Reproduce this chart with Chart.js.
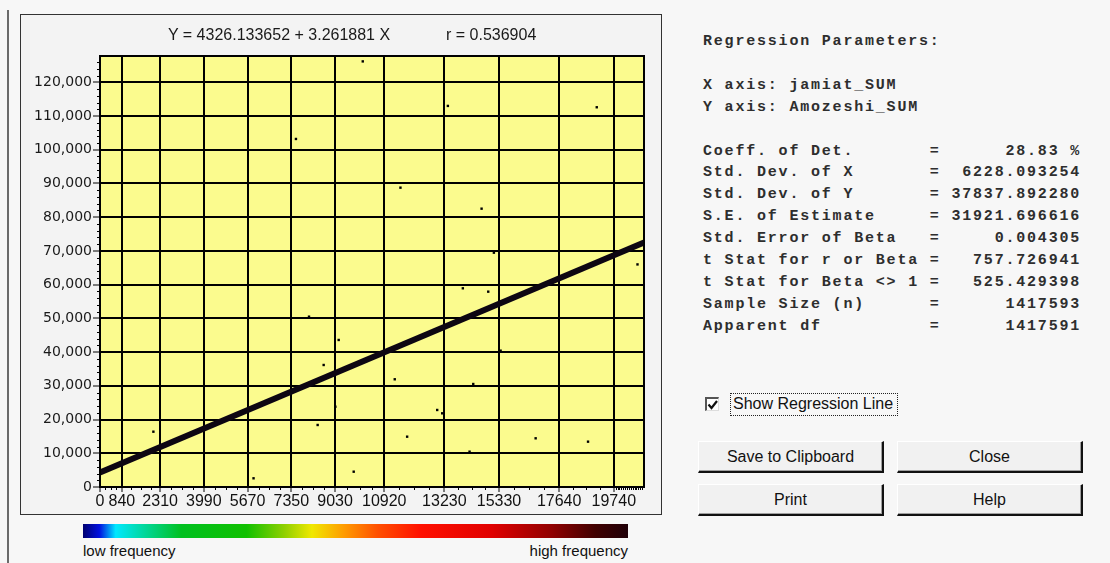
<!DOCTYPE html>
<html>
<head>
<meta charset="utf-8">
<title>Regression</title>
<script src="https://cdn.jsdelivr.net/npm/chart.js@4.4.0/dist/chart.umd.min.js"></script>
<style>
  html, body { margin: 0; padding: 0; }
  body {
    width: 1110px; height: 563px; position: relative; overflow: hidden;
    background: #f7f7f7; color: #111;
    font-family: "Liberation Sans", Arial, sans-serif;
  }
  .abs { position: absolute; }
  #winEdge { left: 7px; top: 10px; width: 2px; height: 553px; background: #6a6a6a; }
  #frame { left: 20px; top: 14px; width: 642px; height: 501px; box-sizing: border-box;
           border: 1px solid #333; background: #f3f3f3; }
  #wrap { left: 0; top: 0; width: 662px; height: 515px; }
  .ttl { top: 26px; font-size: 16px; line-height: 18px; white-space: pre; color: #1a1a1a; }
  #bar { left: 83px; top: 524px; width: 545px; height: 14px;
         background: linear-gradient(to right, #000070 0%, #0010e0 3%, #00e8ff 6%, #00d8a0 11%,
           #00c020 18%, #10c000 30%, #90d000 37%, #f0e800 42%, #ff9a00 48%, #ff5000 54%,
           #ff1000 62%, #e00000 75%, #900000 86%, #400000 94%, #200008 100%); }
  .freq { top: 542px; font-size: 15px; line-height: 18px; color: #111; }
  #stats { left: 703px; top: 31px; margin: 0; font: bold 15px/21.9px "Liberation Mono", monospace;
           letter-spacing: 1.8px; color: #2e2e2e; white-space: pre; }
  #chk { left: 705px; top: 397px; width: 14px; height: 14px; box-sizing: border-box; background: #fff;
         border-top: 2px solid #555; border-left: 2px solid #555; border-right: 1px solid #ddd; border-bottom: 1px solid #ddd; }
  #chkLabel { left: 733px; top: 395px; font-size: 16px; line-height: 18px; }
  #focus { left: 730px; top: 393px; width: 168px; height: 23px; box-sizing: border-box; border: 1px dotted #222; }
  .btn { position: absolute; box-sizing: border-box; width: 186px; height: 32px; background: #f1f1f1;
         border-top: 1px solid #fff; border-left: 1px solid #fff; border-right: 2px solid #111; border-bottom: 2px solid #111;
         box-shadow: inset -1px -1px 0 #a0a0a0; font-size: 16px; line-height: 29px; text-align: center; color: #111; }
</style>
</head>
<body>
<div id="winEdge" class="abs"></div>
<div id="frame" class="abs"></div>
<div id="wrap" class="abs"><canvas id="stage"></canvas></div>
<div class="abs ttl" style="left:168px">Y = 4326.133652 + 3.261881 X</div>
<div class="abs ttl" style="left:446px">r = 0.536904</div>
<div id="bar" class="abs"></div>
<div class="abs freq" style="left:83px">low frequency</div>
<div class="abs freq" style="left:528px;width:100px;text-align:right">high frequency</div>
<pre id="stats" class="abs"></pre>
<div id="chk" class="abs"><svg width="12" height="12" style="display:block"><polyline points="1.5,5.5 4.5,9 10,2" fill="none" stroke="#111" stroke-width="2.2"/></svg></div>
<div id="chkLabel" class="abs">Show Regression Line</div>
<div id="focus" class="abs"></div>
<div class="btn" style="left:698px;top:441px">Save to Clipboard</div>
<div class="btn" style="left:897px;top:441px">Close</div>
<div class="btn" style="left:698px;top:484px">Print</div>
<div class="btn" style="left:897px;top:484px">Help</div>

<script>
// values
var xTickValues = [0, 840, 2310, 3990, 5670, 7350, 9030, 10920, 13230, 15330, 17640, 19740];
var yTickValues = [0, 10000, 20000, 30000, 40000, 50000, 60000, 70000, 80000, 90000, 100000, 110000, 120000];
var xMax = 20900;
var yMax = 127800;

// scattered points away from the main band
var pointX = [10095, 13365, 7528, 19085, 11543, 14660, 15133, 2051, 5899, 8030, 8593, 8362, 9170, 9042,
              9747, 11324, 11800, 12955, 13147, 13940, 14340, 14916, 14198, 15391, 16737, 18750, 20650];
var pointY = [126200, 113000, 103200, 112600, 88760, 82530, 69480, 16400, 2580, 50500, 36180, 18390, 43600, 23810,
              4540, 31940, 14920, 22840, 21850, 58920, 30540, 57920, 10470, 40420, 14440, 13440, 66000];

// regression line end points (Y = 4326.133652 + 3.261881 X)
var fitX = [0, 20900];
var fitY = [4326, 72500];

var statLabels = ['Coeff. of Det.', 'Std. Dev. of X', 'Std. Dev. of Y', 'S.E. of Estimate', 'Std. Error of Beta',
                  't Stat for r or Beta', 't Stat for Beta <> 1', 'Sample Size (n)', 'Apparent df'];
var statValues = ['28.83 %', '6228.093254', '37837.892280', '31921.696616', '0.004305',
                  '757.726941', '525.429398', '1417593', '1417591'];

var lines = ['Regression Parameters:', '', 'X axis: jamiat_SUM', 'Y axis: Amozeshi_SUM', ''];
statLabels.forEach(function(l, i) {
  lines.push(l.padEnd(21) + '=' + (' ' + statValues[i]).padStart(13));
});
document.getElementById('stats').textContent = lines.join('\n');

var plotBack = {
  id: 'plotBack',
  beforeDraw: function(chart) {
    var a = chart.chartArea, ctx = chart.ctx;
    ctx.save();
    ctx.fillStyle = '#fbfb8e';
    ctx.fillRect(a.left, a.top, a.right - a.left, a.bottom - a.top);
    ctx.restore();
  },
  afterDraw: function(chart) {
    var a = chart.chartArea, ctx = chart.ctx;
    var xs = chart.scales.x, ys = chart.scales.y;
    ctx.save();
    ctx.strokeStyle = '#000';
    ctx.lineWidth = 1;
    ctx.beginPath();
    // minor y ticks every 2000
    for (var v = 2000; v < yMax; v += 2000) {
      if (v % 10000 === 0) continue;
      var py = Math.round(ys.getPixelForValue(v)) + 0.5;
      ctx.moveTo(a.left - 3, py); ctx.lineTo(a.left, py);
    }
    // minor x ticks at quarters between labels
    for (var i = 0; i < xTickValues.length; i++) {
      var lo = xTickValues[i];
      var hi = i + 1 < xTickValues.length ? xTickValues[i + 1] : xMax;
      var step = (i + 1 < xTickValues.length ? (hi - lo) : 290) / 4;
      for (var k = 1; lo + k * step < hi; k++) {
        var px = Math.round(xs.getPixelForValue(lo + k * step)) + 0.5;
        ctx.moveTo(px, a.bottom); ctx.lineTo(px, a.bottom + 3);
      }
    }
    ctx.stroke();
    ctx.lineWidth = 2;
    ctx.strokeRect(a.left, a.top, a.right - a.left, a.bottom - a.top);
    ctx.restore();
  }
};

var chart = new Chart(document.getElementById('stage'), {
  type: 'scatter',
  data: {
    datasets: [
      {
        data: pointX.map(function(x, i) { return {x: x, y: pointY[i]}; }),
        pointStyle: 'rect',
        pointRadius: 1.7,
        backgroundColor: '#000',
        borderColor: '#000',
        borderWidth: 0
      },
      {
        data: fitX.map(function(x, i) { return {x: x, y: fitY[i]}; }),
        showLine: true,
        pointRadius: 0,
        borderColor: '#0d0612',
        borderWidth: 6
      }
    ]
  },
  plugins: [plotBack],
  options: {
    responsive: true,
    maintainAspectRatio: false,
    animation: false,
    events: [],
    layout: { padding: { top: 56, right: 18, left: 0, bottom: 0 } },
    plugins: { legend: { display: false }, tooltip: { enabled: false } },
    scales: {
      x: {
        type: 'linear', min: 0, max: xMax,
        afterBuildTicks: function(s) { s.ticks = xTickValues.map(function(v) { return {value: v}; }); },
        afterFit: function(s) { s.height = 28; },
        grid: { color: '#000', lineWidth: 2, tickLength: 5, tickColor: '#000', tickWidth: 1 },
        border: { display: true, color: '#000', width: 2 },
        ticks: {
          autoSkip: false, maxRotation: 0, minRotation: 0, padding: 0,
          color: '#111', font: { family: 'Liberation Sans', size: 16 },
          callback: function(v) { return String(v); }
        }
      },
      y: {
        type: 'linear', min: 0, max: yMax,
        afterBuildTicks: function(s) { s.ticks = yTickValues.map(function(v) { return {value: v}; }); },
        afterFit: function(s) { s.width = 100; },
        grid: { color: '#000', lineWidth: 2, tickLength: 7, tickColor: '#000', tickWidth: 1 },
        border: { display: true, color: '#000', width: 2 },
        ticks: {
          autoSkip: false, padding: 1,
          color: '#1a1a1a', font: { family: 'DejaVu Sans', size: 14 },
          callback: function(v) { return v.toLocaleString('en-US'); }
        }
      }
    }
  }
});
</script>
</body>
</html>
